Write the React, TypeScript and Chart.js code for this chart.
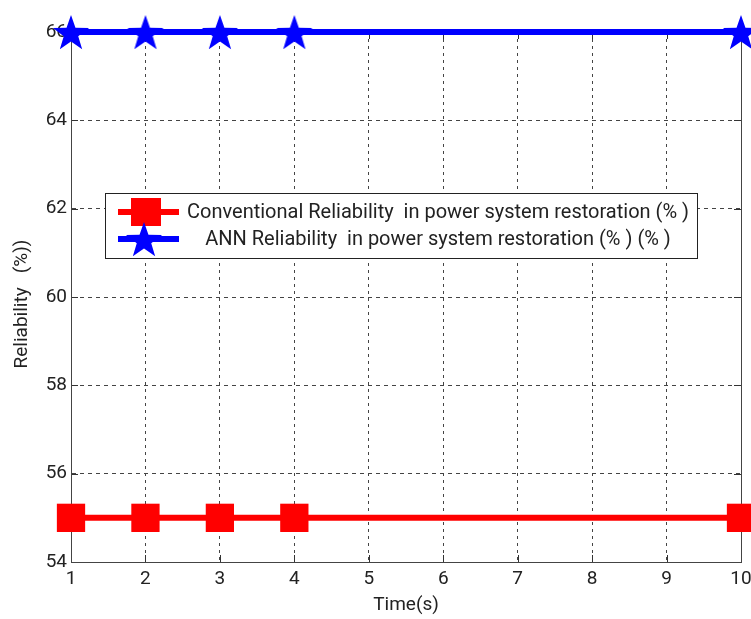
import React, { useEffect, useRef } from 'react';
import { Chart, registerables } from 'chart.js';

Chart.register(...registerables);

const timeValues = [1, 2, 3, 4, 10];
const conventionalReliability = [55, 55, 55, 55, 55];
const annReliability = [66, 66, 66, 66, 66];
const xTickValues = [1, 2, 3, 4, 5, 6, 7, 8, 9, 10];
const yTickValues = [54, 56, 58, 60, 62, 64, 66];
const conventionalLabel = 'Conventional Reliability  in power system restoration (% )';
const annLabel = 'ANN Reliability  in power system restoration (% ) (% )';
const xTitle = 'Time(s)';
const yTitle = 'Reliability   (%))';

const RED = 'rgb(255,0,0)';
const BLUE = 'rgb(0,0,255)';
const FONT = 'Roboto';
const CANVAS_W = 761;
const CANVAS_H = 619;

function makeStar(R: number, color: string): HTMLCanvasElement {
  const size = Math.ceil(2 * R) + 2;
  const c = document.createElement('canvas');
  c.width = size;
  c.height = size;
  const ctx = c.getContext('2d')!;
  const cx = size / 2;
  const cy = size / 2 + 0.1 * R;
  const r = R * 0.4;
  ctx.beginPath();
  for (let i = 0; i < 10; i++) {
    const a = -Math.PI / 2 + (i * Math.PI) / 5;
    const rad = i % 2 === 0 ? R : r;
    const x = cx + rad * Math.cos(a);
    const y = cy + rad * Math.sin(a);
    if (i === 0) ctx.moveTo(x, y);
    else ctx.lineTo(x, y);
  }
  ctx.closePath();
  ctx.fillStyle = color;
  ctx.fill();
  return c;
}

export default function App() {
  const ref = useRef<HTMLCanvasElement | null>(null);

  useEffect(() => {
    const canvas = ref.current;
    if (!canvas) return;
    const star = makeStar(19, BLUE);

    const boxPlugin = {
      id: 'boxAndLegend',
      beforeDatasetsDraw(chart: any) {
        const { ctx, chartArea: a, scales } = chart;
        ctx.save();
        ctx.strokeStyle = '#333';
        ctx.lineWidth = 1;
        ctx.setLineDash([]);
        ctx.beginPath();
        xTickValues.forEach((v) => {
          const x = Math.round(scales.x.getPixelForValue(v)) + 0.5;
          ctx.moveTo(x, a.bottom);
          ctx.lineTo(x, a.bottom - 7);
          ctx.moveTo(x, a.top);
          ctx.lineTo(x, a.top + 7);
        });
        yTickValues.forEach((v) => {
          const y = Math.round(scales.y.getPixelForValue(v)) + 0.5;
          ctx.moveTo(a.left, y);
          ctx.lineTo(a.left + 7, y);
          ctx.moveTo(a.right, y);
          ctx.lineTo(a.right - 7, y);
        });
        ctx.stroke();
        ctx.strokeStyle = '#444';
        ctx.strokeRect(Math.round(a.left) + 0.5, Math.round(a.top) + 0.5, Math.round(a.right - a.left), Math.round(a.bottom - a.top));
        ctx.restore();
      },
      afterDraw(chart: any) {
        const { ctx, chartArea: a } = chart;
        ctx.save();
        ctx.fillStyle = '#222';
        ctx.font = `19px ${FONT}`;
        ctx.textAlign = 'center';
        ctx.textBaseline = 'middle';
        ctx.fillText(xTitle, (a.left + a.right) / 2, a.bottom + 43);
        ctx.save();
        ctx.translate(22, (a.top + a.bottom) / 2 + 7);
        ctx.rotate(-Math.PI / 2);
        ctx.fillText(yTitle, 0, 0);
        ctx.restore();

        // legend
        const lx = a.left + 34;
        const ly = a.top + 161;
        const lw = 592;
        const lh = 65;
        ctx.fillStyle = '#fff';
        ctx.fillRect(lx, ly, lw, lh);
        ctx.strokeStyle = '#222';
        ctx.lineWidth = 1;
        ctx.strokeRect(lx + 0.5, ly + 0.5, lw, lh);

        const sx1 = lx + 13;
        const sx2 = lx + 74;
        const smid = lx + 41;
        const r1 = ly + 19;
        const r2 = ly + 46;
        ctx.lineWidth = 6;
        ctx.strokeStyle = RED;
        ctx.beginPath();
        ctx.moveTo(sx1, r1);
        ctx.lineTo(sx2, r1);
        ctx.stroke();
        ctx.fillStyle = RED;
        ctx.fillRect(smid - 15, r1 - 14, 30, 28);
        ctx.strokeStyle = BLUE;
        ctx.beginPath();
        ctx.moveTo(sx1, r2);
        ctx.lineTo(sx2, r2);
        ctx.stroke();
        ctx.drawImage(star, smid - star.width / 2 - 2, r2 - star.height / 2);

        ctx.fillStyle = '#222';
        ctx.font = `20px ${FONT}`;
        ctx.textAlign = 'center';
        ctx.textBaseline = 'middle';
        const tc = lx + 333;
        ctx.fillText(conventionalLabel, tc, r1 + 1, 502);
        ctx.fillText(annLabel, tc, r2 + 1, 468);
        ctx.restore();
      },
    };

    const chart = new Chart(canvas, {
      type: 'line',
      data: {
        datasets: [
          {
            label: conventionalLabel,
            data: timeValues.map((t, i) => ({ x: t, y: conventionalReliability[i] })),
            borderColor: RED,
            backgroundColor: RED,
            borderWidth: 6,
            pointStyle: 'rect',
            pointRadius: 20,
            pointBorderWidth: 0,
            pointBackgroundColor: RED,
            fill: false,
            tension: 0,
            clip: false as any,
          },
          {
            label: annLabel,
            data: timeValues.map((t, i) => ({ x: t, y: annReliability[i] })),
            borderColor: BLUE,
            backgroundColor: BLUE,
            borderWidth: 6,
            pointStyle: star as any,
            pointRadius: 19,
            pointBorderWidth: 0,
            fill: false,
            tension: 0,
            clip: false as any,
          },
        ],
      },
      options: {
        responsive: false,
        animation: false,
        maintainAspectRatio: false,
        layout: { padding: { top: 32, right: 0, left: 0, bottom: 0 } },
        plugins: {
          legend: { display: false },
          tooltip: { enabled: false },
        },
        scales: {
          x: {
            type: 'linear',
            min: 1,
            max: 10,
            afterBuildTicks: (s: any) => {
              s.ticks = xTickValues.map((v) => ({ value: v }));
            },
            afterFit: (s: any) => {
              s.height = 57;
            },
            ticks: {
              color: '#222',
              font: { family: FONT, size: 19 },
              padding: 6,
              maxRotation: 0,
              autoSkip: false,
            },
            grid: { color: '#444', lineWidth: 1, drawTicks: false },
            border: { display: true, color: '#444', width: 1, dash: [3, 4] },
          },
          y: {
            type: 'linear',
            min: 54,
            max: 66,
            afterBuildTicks: (s: any) => {
              s.ticks = yTickValues.map((v) => ({ value: v }));
            },
            afterFit: (s: any) => {
              s.width = 71;
            },
            ticks: {
              color: '#222',
              font: { family: FONT, size: 19 },
              padding: 4,
              autoSkip: false,
            },
            grid: { color: '#444', lineWidth: 1, drawTicks: false },
            border: { display: true, color: '#444', width: 1, dash: [4, 4] },
          },
        },
      },
      plugins: [boxPlugin],
    } as any);

    return () => chart.destroy();
  }, []);

  return (
    <div style={{ position: 'absolute', left: 0, top: 0, width: 751, height: 619, overflow: 'hidden', background: '#fff' }}>
      <canvas ref={ref} width={CANVAS_W} height={CANVAS_H} style={{ width: CANVAS_W, height: CANVAS_H, display: 'block' }} />
    </div>
  );
}
